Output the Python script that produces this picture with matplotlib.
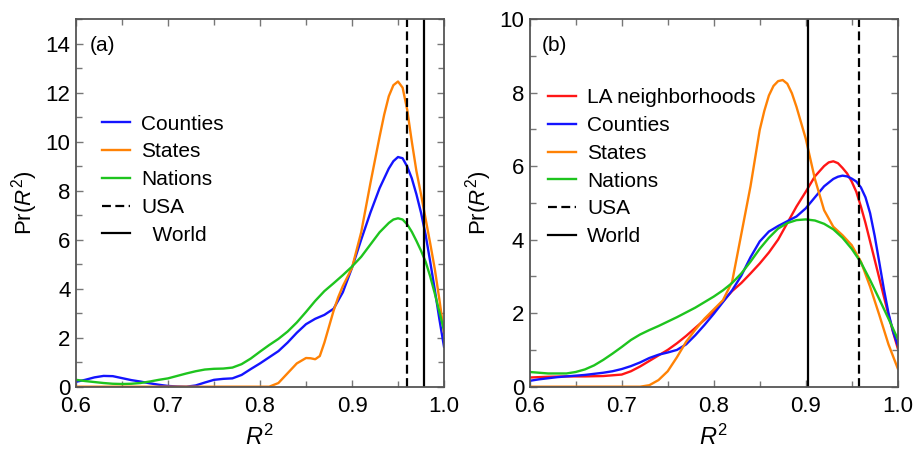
import matplotlib
matplotlib.use("Agg")
import matplotlib.pyplot as plt
from matplotlib.ticker import MultipleLocator, FormatStrFormatter

plt.rcParams['font.family'] = ['Liberation Sans', 'DejaVu Sans']
plt.rcParams['mathtext.fontset'] = 'custom'
plt.rcParams['mathtext.rm'] = 'Liberation Sans'
plt.rcParams['mathtext.it'] = 'Liberation Sans:italic'

# ---------------- Panel (a) data ----------------
a_counties_x = [0.60, 0.61, 0.62, 0.63, 0.64, 0.65, 0.66, 0.67, 0.68, 0.69, 0.70, 0.71, 0.72, 0.73,
                0.74, 0.75, 0.76, 0.77, 0.78, 0.79, 0.80, 0.81, 0.82, 0.83, 0.84, 0.85, 0.86, 0.87,
                0.88, 0.89, 0.90, 0.91, 0.92, 0.93, 0.94, 0.945, 0.95, 0.955, 0.96, 0.965, 0.97,
                0.975, 0.98, 0.985, 0.99, 0.995, 1.00]
a_counties_y = [0.20, 0.28, 0.38, 0.44, 0.43, 0.35, 0.27, 0.21, 0.14, 0.08, 0.03, 0.01, 0.00, 0.05,
                0.17, 0.28, 0.32, 0.34, 0.48, 0.72, 0.95, 1.20, 1.45, 1.80, 2.20, 2.55, 2.77, 2.93,
                3.18, 3.85, 4.85, 6.00, 7.10, 8.10, 8.90, 9.20, 9.37, 9.32, 8.98, 8.50, 7.85,
                7.10, 6.20, 5.10, 3.95, 2.75, 1.63]

a_states_x = [0.60, 0.65, 0.70, 0.75, 0.80, 0.81, 0.82, 0.83, 0.84, 0.85, 0.855, 0.86, 0.865, 0.87,
              0.875, 0.88, 0.885, 0.89, 0.90, 0.91, 0.92, 0.93, 0.935, 0.94, 0.945, 0.95, 0.955,
              0.96, 0.965, 0.97, 0.975, 0.98, 0.985, 0.99, 0.995, 1.00]
a_states_y = [0.00, 0.00, 0.00, 0.00, 0.00, 0.00, 0.15, 0.55, 0.95, 1.17, 1.16, 1.12, 1.25, 1.80,
              2.45, 3.10, 3.65, 4.10, 4.85, 6.30, 8.30, 10.20, 11.10, 11.85, 12.30, 12.45, 12.20,
              11.30, 10.00, 8.80, 7.85, 6.85, 5.85, 4.80, 3.55, 2.20]

a_nations_x = [0.60, 0.61, 0.62, 0.63, 0.64, 0.65, 0.66, 0.67, 0.68, 0.69, 0.70, 0.71, 0.72, 0.73,
               0.74, 0.75, 0.76, 0.77, 0.78, 0.79, 0.80, 0.81, 0.82, 0.83, 0.84, 0.85, 0.86, 0.87,
               0.88, 0.89, 0.90, 0.91, 0.92, 0.93, 0.94, 0.945, 0.95, 0.955, 0.96, 0.965, 0.97,
               0.975, 0.98, 0.985, 0.99, 0.995, 1.00]
a_nations_y = [0.28, 0.23, 0.19, 0.15, 0.12, 0.11, 0.12, 0.15, 0.21, 0.28, 0.34, 0.44, 0.54, 0.63,
               0.70, 0.73, 0.74, 0.78, 0.92, 1.15, 1.43, 1.70, 1.95, 2.25, 2.62, 3.05, 3.50, 3.90,
               4.22, 4.55, 4.90, 5.30, 5.80, 6.30, 6.68, 6.82, 6.87, 6.82, 6.62, 6.32, 5.95,
               5.55, 5.10, 4.50, 3.80, 3.05, 2.30]

a_usa = 0.960
a_world = 0.978

# ---------------- Panel (b) data ----------------
b_la_x = [0.60, 0.62, 0.64, 0.66, 0.68, 0.69, 0.70, 0.71, 0.72, 0.73, 0.74, 0.75, 0.76, 0.77,
          0.78, 0.79, 0.80, 0.81, 0.82, 0.83, 0.84, 0.85, 0.86, 0.87, 0.88, 0.89, 0.90, 0.91,
          0.92, 0.925, 0.93, 0.935, 0.94, 0.945, 0.95, 0.955, 0.96, 0.965, 0.97, 0.975, 0.98,
          0.985, 0.99, 0.995, 1.00]
b_la_y = [0.25, 0.27, 0.28, 0.28, 0.29, 0.31, 0.33, 0.42, 0.55, 0.70, 0.85, 1.00, 1.18, 1.38,
          1.60, 1.82, 2.05, 2.32, 2.60, 2.82, 3.08, 3.35, 3.65, 4.00, 4.45, 4.90, 5.30, 5.72,
          6.00, 6.10, 6.13, 6.08, 5.95, 5.80, 5.58, 5.30, 4.90, 4.45, 3.95, 3.45, 2.95,
          2.45, 1.95, 1.48, 1.05]

b_counties_x = [0.60, 0.61, 0.62, 0.63, 0.64, 0.65, 0.66, 0.67, 0.68, 0.69, 0.70, 0.71, 0.72, 0.73,
                0.74, 0.75, 0.76, 0.77, 0.78, 0.79, 0.80, 0.81, 0.82, 0.83, 0.84, 0.85, 0.86, 0.87,
                0.88, 0.89, 0.90, 0.91, 0.92, 0.93, 0.935, 0.94, 0.945, 0.95, 0.955, 0.96, 0.965,
                0.97, 0.975, 0.98, 0.985, 0.99, 0.995, 1.00]
b_counties_y = [0.16, 0.20, 0.23, 0.26, 0.28, 0.30, 0.32, 0.35, 0.38, 0.42, 0.48, 0.56, 0.66, 0.78,
                0.87, 0.93, 1.00, 1.15, 1.40, 1.68, 1.98, 2.30, 2.62, 3.02, 3.52, 3.95, 4.22, 4.37,
                4.50, 4.63, 4.85, 5.15, 5.45, 5.65, 5.71, 5.74, 5.72, 5.66, 5.58, 5.42, 5.15,
                4.72, 4.10, 3.38, 2.65, 2.00, 1.50, 1.13]

b_states_x = [0.60, 0.65, 0.70, 0.72, 0.73, 0.74, 0.75, 0.76, 0.77, 0.78, 0.79, 0.80, 0.81, 0.82,
              0.83, 0.84, 0.85, 0.855, 0.86, 0.865, 0.87, 0.875, 0.88, 0.885, 0.89, 0.90, 0.91,
              0.92, 0.93, 0.94, 0.95, 0.96, 0.97, 0.98, 0.99, 1.00]
b_states_y = [0.00, 0.00, 0.00, 0.00, 0.04, 0.18, 0.42, 0.80, 1.22, 1.55, 1.85, 2.10, 2.35, 2.85,
              4.15, 5.45, 6.98, 7.50, 7.92, 8.18, 8.31, 8.34, 8.24, 7.98, 7.61, 6.75, 5.65,
              4.80, 4.35, 4.12, 3.85, 3.40, 2.72, 1.95, 1.15, 0.50]

b_nations_x = [0.60, 0.61, 0.62, 0.63, 0.64, 0.65, 0.66, 0.67, 0.68, 0.69, 0.70, 0.71, 0.72, 0.73,
               0.74, 0.75, 0.76, 0.77, 0.78, 0.79, 0.80, 0.81, 0.82, 0.83, 0.84, 0.85, 0.86, 0.87,
               0.88, 0.89, 0.90, 0.91, 0.92, 0.93, 0.94, 0.95, 0.96, 0.97, 0.98, 0.99, 1.00]
b_nations_y = [0.40, 0.38, 0.36, 0.36, 0.36, 0.40, 0.47, 0.58, 0.73, 0.90, 1.08, 1.27, 1.42, 1.54,
               1.65, 1.77, 1.89, 2.02, 2.15, 2.30, 2.45, 2.62, 2.82, 3.08, 3.40, 3.75, 4.05, 4.30,
               4.45, 4.53, 4.55, 4.52, 4.43, 4.28, 4.05, 3.75, 3.38, 2.90, 2.38, 1.85, 1.30]

b_usa = 0.958
b_world = 0.903

x_ticks = [0.6, 0.7, 0.8, 0.9, 1.0]

# ---------------- styling ----------------
C_BLUE = '#1414ff'
C_ORANGE = '#ff8205'
C_GREEN = '#1ec41e'
C_RED = '#ff1616'
LW = 1.7
SPINE = '#555555'
TICKC = '#777777'

fig = plt.figure(figsize=(9.15, 4.55), dpi=100)
axA = fig.add_axes([76 / 915, 68.3 / 455, 368 / 915, 367.7 / 455])
axB = fig.add_axes([529.7 / 915, 68.3 / 455, 368 / 915, 367.7 / 455])


def style(ax, ymax, ymajor):
    ax.set_xlim(0.6, 1.0)
    ax.set_ylim(0, ymax)
    ax.set_xticks(x_ticks)
    ax.xaxis.set_major_formatter(FormatStrFormatter('%.1f'))
    ax.xaxis.set_minor_locator(MultipleLocator(0.05))
    ax.yaxis.set_major_locator(MultipleLocator(ymajor))
    ax.yaxis.set_minor_locator(MultipleLocator(1))
    ax.tick_params(which='both', direction='in', top=True, right=True, color=TICKC, width=1.0)
    ax.tick_params(which='major', length=5)
    ax.tick_params(which='minor', length=4)
    ax.tick_params(axis='x', which='major', labelsize=16, pad=7)
    ax.tick_params(axis='y', which='major', labelsize=16, pad=4)
    for s in ax.spines.values():
        s.set_color(SPINE)
        s.set_linewidth(1.3)
    ax.set_xlabel('$R^2$', fontsize=17, labelpad=5)
    ax.set_ylabel('Pr($R^2$)', fontsize=16, labelpad=4)


# Panel (a)
axA.plot(a_counties_x, a_counties_y, color=C_BLUE, lw=LW, label='Counties')
axA.plot(a_states_x, a_states_y, color=C_ORANGE, lw=LW, label='States')
axA.plot(a_nations_x, a_nations_y, color=C_GREEN, lw=LW, label='Nations')
axA.axvline(a_usa, color='black', lw=1.6, ls=(0, (4, 2)), label='USA')
axA.axvline(a_world, color='black', lw=1.6, label='  World')
style(axA, 15, 2)
axA.text(0.038, 0.929, '(a)', transform=axA.transAxes, fontsize=15, va='center', ha='left')
axA.legend(loc='upper left', bbox_to_anchor=(0.0707, 0.740), frameon=False, fontsize=15,
           borderaxespad=0, borderpad=0, handlelength=1.35, handletextpad=0.53, labelspacing=0.42)

# Panel (b)
axB.plot(b_la_x, b_la_y, color=C_RED, lw=LW, label='LA neighborhoods')
axB.plot(b_counties_x, b_counties_y, color=C_BLUE, lw=LW, label='Counties')
axB.plot(b_states_x, b_states_y, color=C_ORANGE, lw=LW, label='States')
axB.plot(b_nations_x, b_nations_y, color=C_GREEN, lw=LW, label='Nations')
axB.axvline(b_usa, color='black', lw=1.6, ls=(0, (4, 2)), label='USA')
axB.axvline(b_world, color='black', lw=1.6, label='World')
style(axB, 10, 2)
axB.text(0.034, 0.929, '(b)', transform=axB.transAxes, fontsize=15, va='center', ha='left')
axB.legend(loc='upper left', bbox_to_anchor=(0.049, 0.811), frameon=False, fontsize=15,
           borderaxespad=0, borderpad=0, handlelength=1.35, handletextpad=0.53, labelspacing=0.42)

fig.savefig('out.png', dpi=100)
